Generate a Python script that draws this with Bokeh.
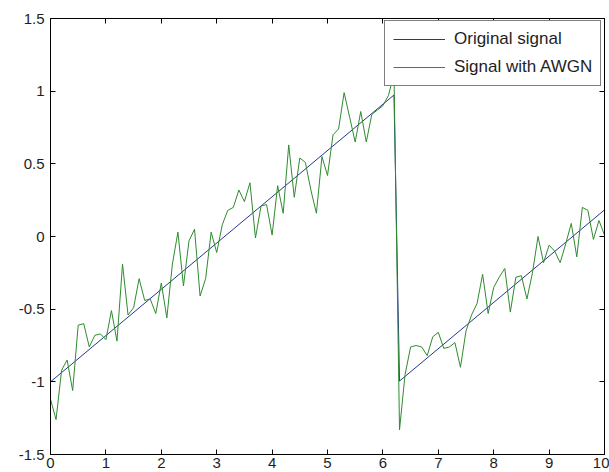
from bokeh.plotting import figure
from bokeh.models import Range1d, FixedTicker, LinearAxis, CustomJSTickFormatter
from bokeh.embed import file_html
from bokeh.resources import INLINE

# ---- data ----
# original (sawtooth) signal: its breakpoints
t_orig = [0.0, 6.2, 6.3, 10.0]
y_orig = [-1.0, 0.9735, -0.9946, 0.1831]

# noisy signal, sampled every 0.1 s from 0 to 10
t_noisy = [i / 10 for i in range(101)]
y_noisy = [
    -1.12, -1.26, -0.92, -0.85, -1.06, -0.61, -0.60, -0.76, -0.68, -0.67,
    -0.71, -0.51, -0.72, -0.19, -0.54, -0.49, -0.29, -0.44, -0.43, -0.53,
    -0.32, -0.56, -0.19, 0.03, -0.34, -0.03, 0.05, -0.41, -0.29, 0.03,
    -0.11, 0.08, 0.18, 0.20, 0.32, 0.24, 0.37, -0.01, 0.21, 0.22,
    0.01, 0.35, 0.16, 0.63, 0.27, 0.54, 0.51, 0.32, 0.16, 0.55,
    0.42, 0.70, 0.74, 0.99, 0.82, 0.65, 0.86, 0.65, 0.84, 0.87,
    0.90, 0.97, 1.12, -1.33, -0.95, -0.76, -0.75, -0.76, -0.82, -0.69,
    -0.66, -0.77, -0.76, -0.73, -0.90, -0.65, -0.54, -0.46, -0.26, -0.53,
    -0.35, -0.28, -0.22, -0.52, -0.28, -0.27, -0.43, -0.25, 0.00, -0.18,
    -0.06, -0.10, -0.18, -0.05, 0.09, -0.14, 0.20, 0.18, -0.02, 0.11,
    0.01,
]

x_ticks = [0, 1, 2, 3, 4, 5, 6, 7, 8, 9, 10]
x_tick_labels = ["0", "1", "2", "3", "4", "5", "6", "7", "8", "9", "10"]
y_ticks = [-1.5, -1, -0.5, 0, 0.5, 1, 1.5]
y_tick_labels = ["-1.5", "-1", "-0.5", "0", "0.5", "1", "1.5"]

legend_labels = ["Original signal", "Signal with AWGN"]

FONT = "Liberation Sans"
TEXT_COLOR = "#1e1e1e"

p = figure(
    width=609, height=472,
    output_backend="svg", toolbar_location=None,
    x_range=Range1d(0, 10), y_range=Range1d(-1.5, 1.5),
    min_border_left=50, min_border_right=5,
    min_border_top=18, min_border_bottom=18,
)
p.background_fill_color = "white"
p.border_fill_color = "white"
p.grid.visible = False
p.outline_line_color = "black"
p.outline_line_width = 1


def style_axis(ax, ticks, labels, show_labels):
    ax.ticker = FixedTicker(ticks=ticks)
    ax.major_tick_in = 5
    ax.major_tick_out = 0
    ax.minor_tick_in = 0
    ax.minor_tick_out = 0
    ax.axis_line_color = "black"
    ax.major_tick_line_color = "black"
    ax.major_label_text_font = FONT
    ax.major_label_text_color = TEXT_COLOR
    if show_labels:
        ax.major_label_overrides = {tk: lb for tk, lb in zip(ticks, labels)}
        ax.major_label_text_font_size = "15px"
    else:
        # tick marks only (MATLAB box with ticks on all four sides)
        ax.formatter = CustomJSTickFormatter(code="return ''")
        ax.major_label_text_font_size = "1px"
        ax.major_label_standoff = 0


style_axis(p.xaxis[0], x_ticks, x_tick_labels, True)
p.xaxis[0].major_label_standoff = 3
style_axis(p.yaxis[0], y_ticks, y_tick_labels, True)
p.yaxis[0].major_label_standoff = 6

top_ax = LinearAxis()
style_axis(top_ax, x_ticks, x_tick_labels, False)
p.add_layout(top_ax, "above")
right_ax = LinearAxis()
style_axis(right_ax, y_ticks, y_tick_labels, False)
p.add_layout(right_ax, "right")

p.line(t_orig, y_orig, line_color="#22388e", line_width=1,
       legend_label=legend_labels[0])
p.line(t_noisy, y_noisy, line_color="#2e8b2e", line_width=1,
       legend_label=legend_labels[1])

lg = p.legend[0]
lg.location = (334, 368)
lg.margin = 0
lg.padding = 8
lg.spacing = 8
lg.glyph_width = 52
lg.glyph_height = 18
lg.label_height = 18
lg.label_standoff = 9
lg.label_text_font = FONT
lg.label_text_font_size = "17px"
lg.label_text_color = TEXT_COLOR
lg.border_line_color = "black"
lg.border_line_width = 1
lg.background_fill_color = "white"
lg.background_fill_alpha = 1.0

open("out.html", "w").write(file_html(p, INLINE))
